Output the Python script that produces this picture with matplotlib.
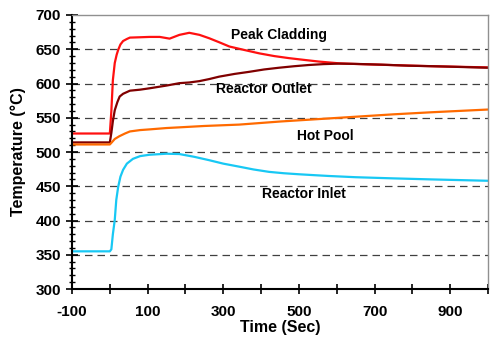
import matplotlib
matplotlib.use("Agg")
import matplotlib.pyplot as plt
from matplotlib.ticker import MultipleLocator, FixedLocator

plt.rcParams['font.family'] = ['Liberation Sans', 'DejaVu Sans']
plt.rcParams['font.weight'] = 'bold'

# Peak cladding
t_clad = [-100, 0, 4, 8, 13, 18, 22, 28, 35, 45, 53, 80, 105, 132, 158, 184, 210, 237, 263, 290, 316, 355, 395, 435, 474, 513, 553, 605, 650, 720, 789, 870, 1000]
v_clad = [527, 527, 560, 605, 630, 642, 649, 657, 662, 665, 667, 667.5, 668, 668, 665.5, 671, 674, 671, 666, 660, 654, 649, 644, 640, 637, 634.5, 632, 629.5, 628.5, 627.3, 626.2, 625, 623.5]
# Reactor outlet
t_out = [-100, 0, 4, 8, 13, 20, 26, 35, 53, 80, 105, 150, 184, 210, 237, 263, 289, 330, 368, 408, 447, 487, 526, 565, 605, 650, 720, 789, 870, 1000]
v_out = [514, 514, 528, 545, 561, 573, 581, 585, 589.5, 591, 593, 597, 600.5, 601.5, 603.5, 606.5, 610, 614, 617, 620.5, 623, 625.2, 627, 628.3, 629, 628.6, 627.5, 626, 625, 623]
# Hot pool
t_pool = [-100, 0, 5, 13, 25, 40, 53, 80, 105, 150, 184, 250, 342, 450, 579, 650, 750, 850, 1000]
v_pool = [511, 511, 514, 519, 523, 527, 530, 532, 533, 535, 536, 538, 540, 544.5, 549, 551.5, 555, 558, 562]
# Reactor inlet
t_in = [-100, 0, 4, 8, 13, 17, 22, 28, 35, 45, 61, 80, 105, 150, 184, 223, 263, 300, 342, 380, 421, 460, 500, 540, 579, 650, 750, 850, 1000]
v_in = [355, 355, 358, 380, 401, 430, 449, 464, 474, 483, 490, 494, 496, 497.5, 497, 493, 488, 483, 478.6, 474.5, 471, 469, 467.5, 466.2, 465, 463.2, 461.5, 460, 458]

labels = ["Peak Cladding", "Reactor Outlet", "Hot Pool", "Reactor Inlet"]
label_t = [447, 408, 571, 513]
label_v = [671, 592, 523, 439]

fig = plt.figure(figsize=(4.9, 3.37), dpi=100)
ax = fig.add_axes([0.147, 0.1424, 0.849, 0.8131])

ax.plot(t_clad, v_clad, color='#FF1010', lw=1.6)
ax.plot(t_out, v_out, color='#800000', lw=1.6)
ax.plot(t_pool, v_pool, color='#FF6A00', lw=1.6)
ax.plot(t_in, v_in, color='#18C8F4', lw=1.6)

for lab, tx, ty in zip(labels, label_t, label_v):
    ax.text(tx, ty, lab, fontsize=10, fontweight='bold', ha='center', va='center')

ax.set_xlim(-100, 1000)
ax.set_ylim(300, 700)
ax.xaxis.set_major_locator(FixedLocator(list(range(-100, 1001, 100))))
ax.set_xticklabels([str(v) if (v + 100) % 200 == 0 else '' for v in range(-100, 1001, 100)])
ax.yaxis.set_major_locator(MultipleLocator(50))
ax.yaxis.set_minor_locator(MultipleLocator(10))

for y in range(350, 700, 50):
    ax.axhline(y, color='#404040', lw=0.9, dashes=(6, 4), zorder=0)

ax.tick_params(axis='x', direction='inout', length=7, width=1.2, labelsize=11, pad=8)
ax.tick_params(axis='y', which='major', direction='inout', length=8, width=1.2, labelsize=11, pad=4)
ax.tick_params(axis='y', which='minor', direction='inout', length=5, width=1.0)
for l in ax.get_xticklabels() + ax.get_yticklabels():
    l.set_fontweight('bold')

ax.spines['left'].set_linewidth(1.5)
ax.spines['bottom'].set_linewidth(1.5)
ax.spines['top'].set_color('#909090')
ax.spines['right'].set_color('#909090')
ax.spines['top'].set_linewidth(1.0)
ax.spines['right'].set_linewidth(1.0)

ax.set_xlabel('Time (Sec)', fontsize=11.5, fontweight='bold', labelpad=0.5)
ax.set_ylabel('Temperature (°C)', fontsize=11.5, fontweight='bold', labelpad=6.5)

fig.savefig('out.png', dpi=100)
